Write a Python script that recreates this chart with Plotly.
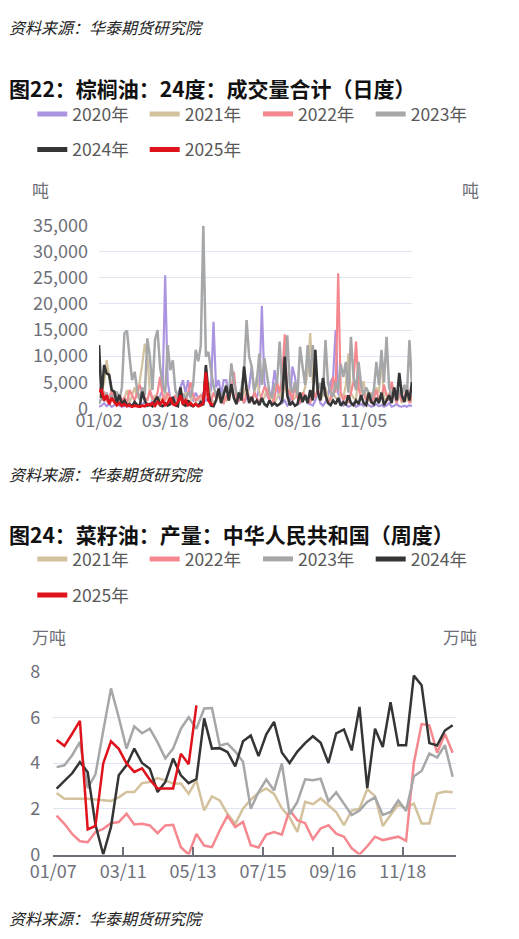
import plotly.graph_objects as go
import pandas as pd

# ---------------- Chart 1: palm oil 24-degree daily volume (tons) ----------------
c1_ticktext = ["01/02", "03/18", "06/02", "08/16", "11/05"]
c1_tick_step = 26

v2020 = [300, 500, 1000, 400, 800, 300, 600, 1200, 500, 300,
         400, 800, 300, 500, 1000, 600, 300, 800, 1200, 500,
         600, 1500, 800, 1200, 2500, 3500, 25500, 5000, 2000, 1000,
         1500, 2500, 4000, 5400, 3000, 5400, 2000, 1500, 3000, 2000,
         1000, 3000, 1500, 2000, 3500, 16600, 4000, 5400, 2500, 5400,
         5400, 2500, 5000, 2000, 1000, 1500, 2500, 1000, 2000, 4000,
         8000, 3000, 2000, 4000, 19600, 5000, 2500, 1500, 3000, 7300,
         4000, 2000, 1000, 1500, 500, 1000, 8000, 6000, 2500, 1000,
         1500, 2500, 1000, 800, 500, 1500, 3000, 1000, 500, 1200,
         2500, 5000, 6000, 15000, 3000, 1000, 500, 800, 300, 500,
         1000, 300, 500, 800, 400, 1200, 600, 300, 500, 800,
         400, 600, 300, 500, 1000, 300, 500, 800, 400, 300,
         500, 300, 600, 400]

v2021 = [2000, 3000, 5000, 9250, 6000, 3000, 1500, 2500, 1000, 1500,
         2000, 3500, 1000, 2500, 4000, 2000, 5000, 8400, 12400, 10000,
         3000, 1500, 2500, 1000, 2000, 1500, 3000, 2000, 1000, 1500,
         2500, 1000, 2000, 1500, 3000, 1000, 1500, 2500, 1000, 2000,
         1500, 2500, 3000, 5000, 2000, 1000, 1500, 2500, 1000, 2000,
         1500, 3000, 4000, 2000, 1000, 2500, 1500, 3000, 4500, 2000,
         1500, 2500, 6000, 3000, 1500, 2000, 4000, 1500, 2500, 1000,
         2000, 3000, 1500, 5000, 2500, 4000, 1500, 2000, 3000, 1500,
         2500, 4000, 7000, 14400, 5000, 7000, 3000, 1500, 2500, 4000,
         2000, 1500, 3000, 2000, 1500, 3000, 2000, 4500, 10500, 3000,
         2000, 1500, 7000, 3000, 5200, 2000, 1500, 3000, 2000, 4000,
         3000, 9500, 2000, 1500, 3000, 2000, 4000, 1500, 2500, 1000,
         2000, 1500, 2500, 1000]

v2022 = [4000, 2500, 3000, 1500, 2000, 3500, 2000, 1000, 2500, 1500,
         2000, 1000, 3500, 2500, 1500, 3000, 4500, 3000, 2000, 1500,
         3500, 2000, 1500, 3000, 6000, 2500, 1500, 3000, 2000, 1500,
         2500, 1500, 3500, 2000, 1000, 3000, 5000, 2500, 1500, 2000,
         2500, 1500, 3000, 2000, 1200, 3000, 2000, 2500, 1500, 1000,
         2500, 1500, 3500, 7000, 2000, 1500, 2500, 1000, 3000, 2000,
         1500, 3000, 2000, 1000, 2500, 4000, 3500, 1500, 1000, 2000,
         5000, 3000, 6000, 14200, 2000, 3500, 1500, 4500, 2000, 1000,
         3000, 2500, 1500, 1000, 3500, 2000, 4000, 1500, 5000, 2500,
         1000, 2000, 6000, 3000, 25900, 3000, 1500, 2500, 1000, 3000,
         5000, 12800, 4000, 2000, 3000, 1500, 2500, 1000, 2000, 3500,
         1500, 2000, 4500, 2500, 1500, 5100, 2500, 1000, 3000, 1500,
         2000, 4500, 1000, 2500]

v2023 = [800, 2000, 1500, 3000, 1200, 2500, 1800, 3200, 1500, 4000,
         14400, 14900, 9900, 5400, 7000, 3500, 1600, 4000, 2500, 13400,
         9900, 3500, 13100, 15000, 8000, 4500, 3000, 12100, 7300, 9200,
         3500, 2200, 1500, 2800, 1800, 3000, 2200, 4500, 11200, 9000,
         12000, 35000, 9900, 10800, 7300, 4300, 2500, 3500, 2000, 3000,
         4500, 2200, 8600, 5000, 3000, 2000, 4000, 7000, 16900, 9900,
         8000, 3500, 5000, 10500, 4500, 9600, 6400, 3000, 2000, 4500,
         5000, 12800, 3500, 5500, 14000, 4300, 3000, 5000, 2500, 11800,
         8000, 4500, 12100, 6000, 12100, 6400, 3500, 4800, 2500, 13100,
         4800, 3000, 2200, 5000, 3500, 8500, 6000, 8900, 3000, 13700,
         6000, 3500, 8900, 4500, 2500, 4000, 3000, 1800, 3500, 8900,
         4500, 11200, 5000, 13700, 4000, 2500, 3000, 1500, 3500, 2500,
         4500, 2500, 13100, 4000]

v2024 = [12100, 2000, 8300, 6700, 6400, 3500, 3200, 1000, 2550, 800,
         1500, 500, 800, 400, 1200, 600, 400, 3200, 1500, 500,
         800, 400, 1500, 2200, 600, 400, 1000, 500, 800, 2200,
         600, 400, 4000, 800, 500, 1500, 600, 400, 800, 500,
         1200, 600, 8300, 3000, 500, 400, 1500, 3800, 1000, 2500,
         4300, 1500, 4600, 2000, 800, 3000, 1500, 8000, 3600, 1000,
         2200, 800, 1500, 600, 2000, 800, 400, 1500, 600, 1000,
         500, 800, 1500, 9900, 2500, 600, 1200, 500, 800, 3000,
         1200, 2500, 1000, 3500, 1500, 11200, 3000, 1500, 5800, 2500,
         1000, 600, 1500, 800, 2000, 500, 1200, 800, 2500, 1000,
         600, 1500, 800, 2500, 1000, 600, 3000, 1200, 800, 2000,
         1000, 3000, 600, 1500, 2500, 1000, 4000, 1500, 6800, 2500,
         1200, 3500, 1500, 5000]

v2025 = [3200, 3500, 1500, 2500, 800, 2000, 1200, 600, 1000, 500,
         800, 400, 600, 300, 500, 400, 300, 500, 400, 800,
         600, 1000, 500, 1200, 800, 1500, 600, 1000, 2000, 800,
         600, 1200, 2500, 800, 1500, 600, 1000, 500, 800, 400,
         600, 1000, 6900, 1500, 800, 600]

# ---------------- Chart 2: rapeseed oil weekly output (10k tons) ----------------
c2_start = "2025-01-10"
c2_ticks = ["2025-01-07", "2025-03-11", "2025-05-13", "2025-07-15",
            "2025-09-16", "2025-11-18", "2026-01-05"]
c2_ticktext = ["01/07", "03/11", "05/13", "07/15", "09/16", "11/18", ""]

w2021 = [2.69, 2.44, 2.44, 2.44, 2.44, 2.40, 2.36, 2.34, 2.50, 2.73,
         2.73, 3.12, 3.17, 3.34, 3.24, 3.10, 3.10, 2.66, 3.24, 1.93,
         2.54, 2.36, 1.78, 1.34, 2.00, 2.40, 2.70, 2.89, 2.65, 2.02,
         1.62, 0.99, 2.30, 2.20, 2.45, 2.15, 1.85, 1.28, 1.92, 2.00,
         2.86, 2.55, 1.25, 1.73, 2.18, 2.02, 2.23, 1.36, 1.36, 2.67,
         2.75, 2.72]

w2022 = [1.70, 1.34, 0.90, 0.58, 0.54, 0.98, 1.12, 1.37, 1.42, 1.78,
         1.31, 1.34, 1.27, 0.93, 1.27, 1.30, 0.32, 0.00, 0.90, 0.39,
         0.32, 1.05, 1.70, 1.20, 1.42, 0.41, 0.31, 0.87, 0.98, 0.87,
         1.95, 1.50, 1.37, 0.66, 1.14, 1.28, 0.91, 0.78, 0.27, 0.00,
         0.36, 0.78, 0.63, 0.70, 0.78, 0.60, 4.00, 5.70, 5.65, 4.45,
         5.27, 4.45]

w2023 = [3.82, 3.90, 4.34, 4.92, 2.90, 3.50, 5.40, 7.26, 6.00, 4.63,
         5.60, 5.30, 5.50, 4.90, 4.20, 4.63, 5.50, 6.00, 5.50, 6.38,
         6.40, 4.77, 4.85, 4.50, 4.05, 2.00, 2.73, 3.28, 2.80, 3.98,
         1.76, 2.30, 3.29, 3.25, 3.31, 2.33, 2.72, 2.20, 1.72, 1.92,
         2.30, 2.50, 1.73, 1.86, 2.36, 1.90, 3.42, 3.65, 4.42, 4.24,
         4.78, 3.40]

w2024 = [2.88, 3.20, 3.55, 4.04, 3.60, 1.30, 0.00, 1.20, 3.46, 3.90,
         4.63, 4.00, 3.75, 2.73, 3.17, 4.19, 3.46, 3.12, 3.30, 5.95,
         4.63, 4.65, 4.48, 3.85, 4.95, 5.20, 4.30, 5.25, 5.80, 4.46,
         4.00, 4.50, 4.87, 5.17, 4.88, 4.00, 5.30, 5.47, 4.55, 6.45,
         2.90, 5.50, 4.70, 6.66, 4.78, 4.78, 7.82, 7.40, 4.87, 4.77,
         5.42, 5.65]

w2025 = [5.01, 4.75, 5.28, 5.84, 1.10, 1.25, 3.98, 4.95, 4.62, 3.98,
         3.61, 3.77, 3.27, 2.89, 2.89, 2.89, 4.40, 3.95, 6.52]

# ---------------- styling ----------------
COL = {"2020年": "#ab95e1", "2021年": "#d4c19d", "2022年": "#f5888f",
       "2023年": "#a6a7a9", "2024年": "#353535", "2025年": "#e0121c"}
FONT = "Noto Sans CJK SC, Noto Sans, sans-serif"
TICKC = "#6e7079"
GRIDC = "#e0e6f1"
# the page body has an 8px margin, so the figure is drawn 8px in from the window edge
OFF = 8
W, H = 519 - 2 * OFF, 939 - 2 * OFF


def px(xp):
    """window x (px) -> paper fraction"""
    return (xp - OFF) / W


def py(yp):
    """window y (px, from top) -> paper fraction"""
    return 1 - (yp - OFF) / H


fig = go.Figure()

# chart 1 traces
x1 = list(range(len(v2023)))
for name, vals, lw in [("2020年", v2020, 2.2), ("2021年", v2021, 2.2), ("2022年", v2022, 2.2),
                       ("2023年", v2023, 2.5), ("2024年", v2024, 2.6), ("2025年", v2025, 2.8)]:
    fig.add_trace(go.Scatter(x=x1[:len(vals)], y=vals, mode="lines", name=name,
                             line=dict(color=COL[name], width=lw),
                             xaxis="x", yaxis="y", showlegend=False))

# chart 2 traces
for name, vals in [("2021年", w2021), ("2022年", w2022), ("2023年", w2023),
                   ("2024年", w2024), ("2025年", w2025)]:
    xd = pd.date_range(c2_start, periods=len(vals), freq="7D")
    fig.add_trace(go.Scatter(x=xd, y=vals, mode="lines", name=name,
                             line=dict(color=COL[name], width=2.5),
                             xaxis="x2", yaxis="y3", showlegend=False))

# legend entries: one legend per item so each sits where the reference has it
col_x = [39.3, 151.7, 265.0, 377.7]
legend_items = [("2020年", 0, 114), ("2021年", 1, 114), ("2022年", 2, 114), ("2023年", 3, 114),
                ("2024年", 0, 149.5), ("2025年", 1, 149.5),
                ("2021年", 0, 559), ("2022年", 1, 559), ("2023年", 2, 559), ("2024年", 3, 559),
                ("2025年", 0, 595)]
legend_layout = {}
for i, (n, col, yy) in enumerate(legend_items):
    lg = "legend" if i == 0 else f"legend{i + 1}"
    fig.add_trace(go.Scatter(x=[None], y=[None], mode="lines", name=n,
                             line=dict(color=COL[n], width=5),
                             legend=lg, showlegend=True,
                             xaxis="x", yaxis="y", hoverinfo="skip"))
    legend_layout[lg] = dict(x=px(col_x[col] - 7), y=py(yy), orientation="h",
                             xanchor="left", yanchor="middle",
                             font=dict(family=FONT, size=17.5, color="#595959"),
                             bgcolor="rgba(0,0,0,0)", borderwidth=0,
                             itemwidth=30, itemclick=False, itemdoubleclick=False)

axis_font = dict(family=FONT, size=18, color=TICKC)
c1_dom_x = [px(99), px(412)]
c1_dom_y = [py(408.3), py(225.7)]
c2_dom_x = [px(53.3), px(456)]
c2_dom_y = [py(854.5), py(671.5)]

fig.update_layout(
    width=W, height=H,
    margin=dict(l=0, r=0, t=0, b=0, autoexpand=False),
    paper_bgcolor="white", plot_bgcolor="white",
    font=dict(family=FONT),
    showlegend=True,
    xaxis=dict(domain=c1_dom_x, anchor="y", range=[0, len(x1) - 1],
               tickmode="array",
               tickvals=[i * c1_tick_step for i in range(len(c1_ticktext))],
               ticktext=c1_ticktext, showgrid=False, zeroline=False,
               showline=False, ticks="", tickfont=axis_font),
    yaxis=dict(domain=c1_dom_y, anchor="x", range=[0, 35000], dtick=5000,
               tickformat=",", showgrid=True, gridcolor=GRIDC, gridwidth=1,
               zeroline=False, showline=False, ticks="", tickfont=axis_font,
               ticklabelstandoff=10),
    yaxis2=dict(overlaying="y", side="right", anchor="x", range=[0, 35000],
                dtick=5000, tickformat=",", showgrid=False, zeroline=False,
                showline=False, ticks="", tickfont=axis_font,
                ticklabelstandoff=9),
    xaxis2=dict(domain=c2_dom_x, anchor="y3", type="date",
                range=[c2_ticks[0], c2_ticks[-1]],
                tickmode="array", tickvals=c2_ticks, ticktext=c2_ticktext,
                showgrid=False, zeroline=False, showline=True,
                linecolor=TICKC, linewidth=1.5, ticks="inside", ticklen=8,
                tickwidth=1.5, tickcolor=TICKC, tickfont=axis_font),
    yaxis3=dict(domain=c2_dom_y, anchor="x2", range=[0, 8], dtick=2,
                showgrid=True, gridcolor=GRIDC, gridwidth=1, zeroline=False,
                showline=False, ticks="", tickfont=axis_font,
                ticklabelstandoff=12),
    yaxis4=dict(overlaying="y3", side="right", anchor="x2", range=[0, 8],
                dtick=2, showgrid=False, zeroline=False, showline=False,
                ticks="", tickfont=axis_font, ticklabelstandoff=10),
    **legend_layout,
)

src = "<i>资料来源：华泰期货研究院</i>"
ann = [
    dict(text=src, x=px(8), y=py(27.5), xanchor="left", yanchor="middle",
         font=dict(family=FONT, size=16, color="#222222")),
    dict(text="<b>图22：棕榈油：24度：成交量合计（日度）</b>", x=px(8), y=py(88),
         xanchor="left", yanchor="middle",
         font=dict(family=FONT, size=21, color="#111111")),
    dict(text="吨", x=px(40.5), y=py(189), xanchor="center", yanchor="middle",
         font=dict(family=FONT, size=17, color=TICKC)),
    dict(text="吨", x=px(470), y=py(189), xanchor="center", yanchor="middle",
         font=dict(family=FONT, size=17, color=TICKC)),
    dict(text=src, x=px(8), y=py(474), xanchor="left", yanchor="middle",
         font=dict(family=FONT, size=16, color="#222222")),
    dict(text="<b>图24：菜籽油：产量：中华人民共和国（周度）</b>", x=px(8), y=py(534),
         xanchor="left", yanchor="middle",
         font=dict(family=FONT, size=21, color="#111111")),
    dict(text="万吨", x=px(49), y=py(636), xanchor="center", yanchor="middle",
         font=dict(family=FONT, size=17, color=TICKC)),
    dict(text="万吨", x=px(460), y=py(636), xanchor="center", yanchor="middle",
         font=dict(family=FONT, size=17, color=TICKC)),
    dict(text=src, x=px(8), y=py(918), xanchor="left", yanchor="middle",
         font=dict(family=FONT, size=16, color="#222222")),
]
for a in ann:
    a.update(xref="paper", yref="paper", showarrow=False, borderpad=0)
fig.update_layout(annotations=ann)

fig.write_html("out.html")
